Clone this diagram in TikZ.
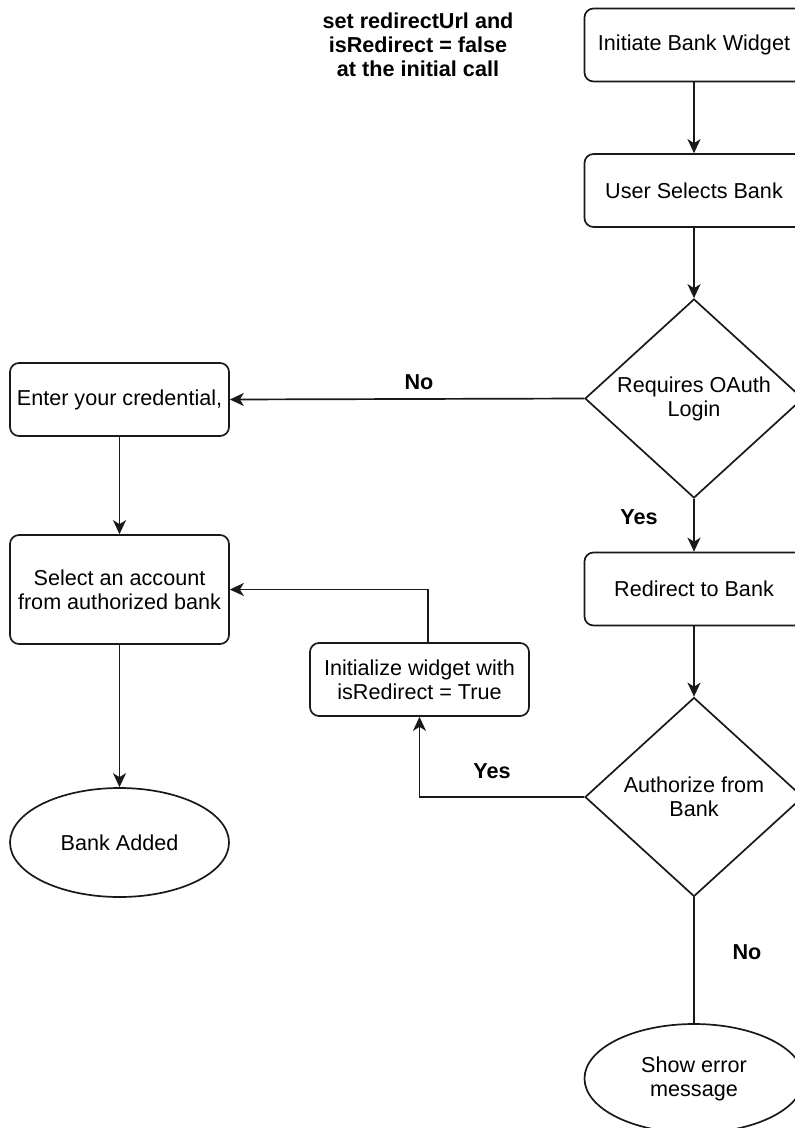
\documentclass[tikz,border=0pt]{standalone}
\usepackage{fontspec}
\setmainfont{Liberation Sans}
\usetikzlibrary{shapes.geometric,arrows.meta}
\begin{document}
\begin{tikzpicture}[x=1pt,y=-1pt,
  base/.style={draw=black!90,line width=1.7pt,align=center,inner sep=0pt,
    font=\fontsize{21.6pt}{24pt}\selectfont},
  procbox/.style={base,rectangle,rounded corners=9pt,minimum width=219pt,minimum height=73pt},
  decision/.style={base,diamond,minimum width=218pt,minimum height=199pt},
  terminal/.style={base,ellipse,minimum width=219pt,minimum height=109pt},
  lbl/.style={font=\fontsize{21.6pt}{24pt}\selectfont\bfseries,align=center,inner sep=0pt},
  arr/.style={draw=black!90,line width=1.7pt,-{Stealth[length=14pt,width=13pt,inset=4pt]}},
  plain/.style={draw=black!90,line width=1.7pt}
]
\clip (0,0) rectangle (795,1128);
\fill[white] (0,0) rectangle (795,1128);

\node[procbox] (init) at (694,45) {Initiate Bank Widget};
\node[procbox] (user) at (694,190.5) {User Selects Bank};
\node[decision] (oauth) at (694,398.5) {Requires OAuth\\Login};
\node[procbox] (redir) at (694,589) {Redirect to Bank};
\node[decision] (auth) at (694,797) {Authorize from\\Bank};
\node[terminal] (err) at (694,1078.5) {Show error\\message};

\node[procbox] (cred) at (119.5,399.5) {Enter your credential,};
\node[procbox,minimum height=109pt] (select) at (119.5,589.5) {Select an account\\from authorized bank};
\node[terminal] (added) at (119.5,842.5) {Bank Added};
\node[procbox] (initw) at (419.5,679.5) {Initialize widget with\\isRedirect = True};

\node[lbl] (note) at (418,45) {set redirectUrl and\\isRedirect = false\\at the initial call};

\node[lbl] (lno1) at (419,382) {No};
\node[lbl] (lyes1) at (639,517) {Yes};
\node[lbl] (lyes2) at (492,771) {Yes};
\node[lbl] (lno2) at (747,952) {No};

\draw[arr] (init) -- (user);
\draw[arr] (user) -- (oauth);
\draw[arr] (oauth.west) -- (cred.east);
\draw[arr] (oauth.south) -- (redir.north);
\draw[arr] (cred) -- (select);
\draw[arr] (redir) -- (auth.north);
\draw[arr] (auth.west) -| (initw.south);
\draw[arr] ([xshift=8.5pt]initw.north) |- (select.east);
\draw[arr] (select) -- (added);
\draw[plain] (auth.south) -- (err.north);
\end{tikzpicture}
\end{document}
